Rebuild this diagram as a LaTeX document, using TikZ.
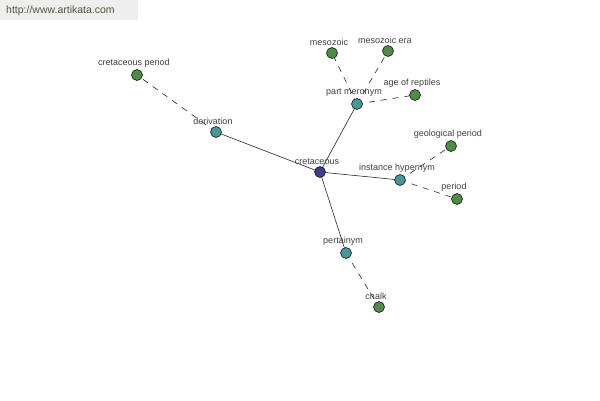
\documentclass[tikz,border=0pt]{standalone}
\usepackage{fontspec}
\setmainfont{Liberation Sans}
\usetikzlibrary{backgrounds}
\begin{document}
\begin{tikzpicture}[x=1pt,y=-1pt,
  dot/.style={circle,draw=black,line width=0.5pt,minimum size=11pt,inner sep=0pt},
  hub/.style={dot,fill=hubc},
  rel/.style={dot,fill=relc},
  leaf/.style={dot,fill=leafc},
  lbl/.style={font=\fontsize{9}{10}\selectfont,text=labc,inner sep=0pt,xshift=-3pt},
  every label/.style={lbl},
  label distance=1.5pt,
  solidedge/.style={draw=black!85,line width=0.6pt},
  dashedge/.style={draw=black!85,line width=0.6pt,dash pattern=on 6pt off 6pt}]
\definecolor{hubc}{HTML}{3D3F8C}
\definecolor{relc}{HTML}{4A9595}
\definecolor{leafc}{HTML}{4F8A47}
\definecolor{labc}{HTML}{404040}
\definecolor{wmbg}{HTML}{EEEEEE}
\definecolor{wmtx}{HTML}{4A5A40}
\useasboundingbox (0,0) rectangle (600,400);
% nodes
\node[hub,label=above:cretaceous] (c) at (320,172) {};
\node[rel,label=above:derivation] (der) at (216,132) {};
\node[leaf,label=above:cretaceous period] (cp) at (137,75) {};
\node[rel,label=above:part meronym] (pm) at (357,104) {};
\node[leaf,label=above:mesozoic] (mes) at (332,53) {};
\node[leaf,label=above:mesozoic era] (mera) at (388,51) {};
\node[leaf,label=above:age of reptiles] (agr) at (415,95) {};
\node[rel,label=above:instance hypernym] (ih) at (400,180) {};
\node[leaf,label=above:geological period] (gp) at (451,146) {};
\node[leaf,label=above:period] (per) at (457,199) {};
\node[rel,label=above:pertainym] (pt) at (346,253) {};
\node[leaf,label=above:chalk] (ch) at (379,307) {};
% background and edges
\begin{pgfonlayer}{background}
\fill[white] (0,0) rectangle (600,400);
\fill[wmbg] (0,0) rectangle (138,20);
\node[font=\fontsize{10.5}{12}\selectfont,text=wmtx,anchor=west,inner sep=0pt] (wm) at (6,10.5) {http://www.artikata.com};
\draw[solidedge] (c.center) -- (der.center);
\draw[solidedge] (c.center) -- (pm.center);
\draw[solidedge] (c.center) -- (ih.center);
\draw[solidedge] (c.center) -- (pt.center);
\draw[dashedge] (der.center) -- (cp.center);
\draw[dashedge] (pm.center) -- (mes.center);
\draw[dashedge] (pm.center) -- (mera.center);
\draw[dashedge] (pm.center) -- (agr.center);
\draw[dashedge] (ih.center) -- (gp.center);
\draw[dashedge] (ih.center) -- (per.center);
\draw[dashedge] (pt.center) -- (ch.center);
\end{pgfonlayer}
\end{tikzpicture}
\end{document}
